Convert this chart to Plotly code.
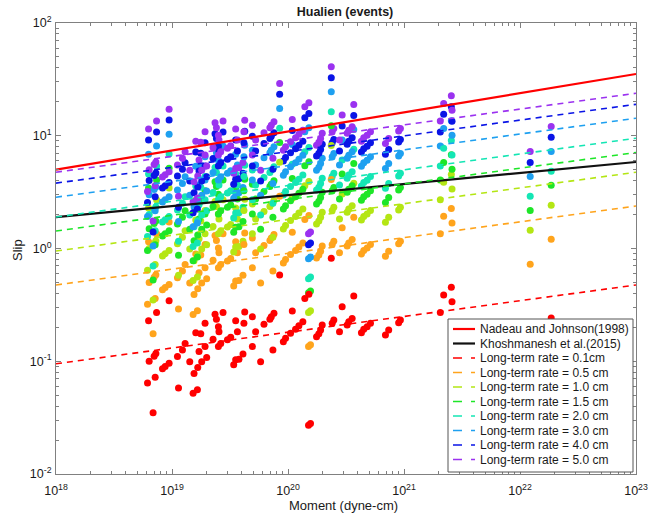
import plotly.graph_objects as go

# Long-term slip rates (cm/yr) and their colours
rates = [0.1, 0.5, 1.0, 1.5, 2.0, 3.0, 4.0, 5.0]
rate_labels = ["0.1cm", "0.5 cm", "1.0 cm", "1.5 cm", "2.0 cm", "3.0 cm", "4.0 cm", "5.0 cm"]
rate_colors = ["#FF0000", "#FFA41C", "#B4E614", "#1EE628", "#14E6B4",
               "#1EA0F0", "#0A14E6", "#9B32F0"]

# Model lines, evaluated at the ends of the moment range
line_moment = [1e18, 1e23]
nadeau_slip = [5.0, 35.3]
khosh_slip = [1.9, 5.85]
rate_slip_start = [0.095, 0.475, 0.95, 1.43, 1.9, 2.85, 3.8, 4.75]
rate_slip_end = [0.475, 2.38, 4.75, 7.1, 9.5, 14.3, 19.0, 23.8]

# Repeating events: log10 seismic moment (dyne-cm) and recurrence interval (yr)
log10_moment = [
    18.975, 18.867, 18.798, 19.371, 19.440, 19.383, 19.285, 19.400, 19.405, 19.205,
    19.248, 19.549, 19.627, 19.564, 19.354, 19.420, 19.478, 19.506, 19.400, 19.113,
    19.090, 19.285, 19.233, 18.861, 18.846, 19.047, 19.299, 19.256, 19.153, 18.975,
    18.941, 18.918, 18.803, 19.222, 19.549, 19.577, 19.532, 19.612, 19.190, 18.855,
    18.789, 19.056, 19.219, 19.182, 18.837, 19.620, 19.693, 19.721, 19.793, 19.879,
    19.856, 19.844, 20.037, 20.145, 20.128, 20.094, 20.065, 20.022, 19.979, 19.960,
    20.295, 20.281, 20.266, 20.246, 20.395, 20.381, 20.467, 20.444, 20.510, 19.693,
    19.870, 19.764, 20.194, 20.177, 20.567, 20.553, 20.524, 20.711, 20.682, 20.653,
    20.633, 20.969, 20.954, 20.868, 20.840, 21.313, 21.342, 21.408, 21.414, 20.373,
    19.928, 22.269, 22.088, 20.180,
]
recurrence_yr = [
    3.44, 2.70, 2.29, 2.61, 2.70, 2.36, 2.17, 2.02, 1.83, 1.79,
    1.75, 2.29, 2.74, 1.83, 1.57, 1.44, 1.55, 1.63, 1.35, 1.44,
    1.26, 1.35, 1.22, 1.17, 1.11, 1.10, 1.08, 0.99, 0.99, 0.96,
    0.90, 0.86, 1.00, 0.88, 1.03, 1.04, 0.93, 1.16, 0.78, 0.72,
    0.64, 0.58, 0.56, 0.52, 0.35, 2.17, 2.48, 1.83, 2.13, 2.66,
    2.48, 2.36, 2.79, 3.61, 2.24, 2.06, 1.92, 1.77, 1.60, 1.49,
    2.10, 1.89, 1.75, 1.65, 2.32, 2.17, 3.05, 1.83, 2.10, 1.35,
    1.26, 0.99, 0.28, 0.27, 3.79, 2.40, 2.24, 2.17, 2.02, 1.92,
    1.79, 2.32, 2.20, 1.89, 1.71, 2.70, 3.87, 4.53, 3.37, 8.18,
    5.82, 2.42, 1.45, 3.93,
]

FONT = "Liberation Sans, Arial, Helvetica, sans-serif"
TEXT = "#1a1a1a"
AXC = "#808080"
W, H = 648, 518
ML, MR, MT, MB = 56, 12, 23, 44
PW, PH = W - ML - MR, H - MT - MB

fig = go.Figure()

# Event slips: each event gives one point per assumed long-term rate
xs, ys, cs = [], [], []
for lm, tr in zip(log10_moment, recurrence_yr):
    for r, c in zip(rates, rate_colors):
        xs.append(10.0 ** lm)
        ys.append(r * tr)
        cs.append(c)
fig.add_trace(go.Scatter(
    x=xs, y=ys, mode="markers", showlegend=False, hoverinfo="skip",
    marker=dict(size=7, color=cs, line=dict(width=0)),
))

# Model / reference lines (label, colour, width, dash, slips)
line_specs = [
    ("Nadeau and Johnson(1998)", "#FF0000", 2.2, "solid", nadeau_slip),
    ("Khoshmanesh et al.(2015)", "#111111", 2.2, "solid", khosh_slip),
]
for lab, c, s0, s1 in zip(rate_labels, rate_colors, rate_slip_start, rate_slip_end):
    line_specs.append((f"Long-term rate = {lab}", c, 1.6, "6px,5px", [s0, s1]))

for name, c, w, d, s in line_specs:
    fig.add_trace(go.Scatter(
        x=line_moment, y=s, mode="lines", name=name, showlegend=False,
        hoverinfo="skip", line=dict(color=c, width=w, dash=d),
    ))

# Legend box in the lower-right corner of the axes
def px_x(p):
    return (p - ML) / PW

def px_y(p):
    return (H - MB - p) / PH

box_l, box_r, box_t, box_b = 448, 633, 319, 472
row0, row_step = 329, 14.5
shapes = [dict(type="rect", xref="paper", yref="paper", layer="above",
               x0=px_x(box_l), x1=px_x(box_r), y0=px_y(box_b), y1=px_y(box_t),
               fillcolor="white", line=dict(color="#555555", width=1))]
annotations = []
for i, (name, c, w, d, s) in enumerate(line_specs):
    yy = px_y(row0 + i * row_step)
    shapes.append(dict(type="line", xref="paper", yref="paper", layer="above",
                       x0=px_x(453), x1=px_x(475), y0=yy, y1=yy,
                       line=dict(color=c, width=w, dash="dash" if d != "solid" else "solid")))
    annotations.append(dict(text=name, xref="paper", yref="paper", x=px_x(478), y=yy,
                            xanchor="left", yanchor="middle", showarrow=False,
                            font=dict(family=FONT, size=12, color=TEXT)))

# Axis titles
annotations.append(dict(text="Moment (dyne-cm)", xref="paper", yref="paper",
                        x=px_x(343), y=px_y(505), xanchor="center", yanchor="middle",
                        showarrow=False, font=dict(family=FONT, size=13, color=TEXT)))
annotations.append(dict(text="Slip", xref="paper", yref="paper", textangle=-90,
                        x=px_x(17), y=px_y(250), xanchor="center", yanchor="middle",
                        showarrow=False, font=dict(family=FONT, size=13, color=TEXT)))

minor_x = [m * 10.0 ** e for e in range(18, 23) for m in range(2, 10)]
minor_y = [m * 10.0 ** e for e in range(-2, 2) for m in range(2, 10)]
axis_common = dict(
    type="log", showgrid=False, zeroline=False, automargin=False,
    showline=True, linecolor=AXC, linewidth=1, mirror="allticks",
    ticks="inside", ticklen=5, tickcolor=AXC,
    tickfont=dict(family=FONT, size=12.5, color=TEXT),
)

fig.update_xaxes(
    **axis_common, range=[18, 23], ticklabelstandoff=5,
    tickvals=[10.0 ** e for e in range(18, 24)],
    ticktext=[f"10<sup>{e}</sup>" for e in range(18, 24)],
    minor=dict(tickvals=minor_x, ticks="inside", ticklen=3, tickcolor=AXC),
)
fig.update_yaxes(
    **axis_common, range=[-2, 2], ticklabelstandoff=1,
    tickvals=[10.0 ** e for e in range(-2, 3)],
    ticktext=[f"10<sup>{e}</sup>" for e in range(-2, 3)],
    minor=dict(tickvals=minor_y, ticks="inside", ticklen=3, tickcolor=AXC),
)

fig.update_layout(
    width=W, height=H,
    margin=dict(l=ML, r=MR, t=MT, b=MB, autoexpand=False),
    paper_bgcolor="white", plot_bgcolor="white",
    title=dict(text="<b>Hualien (events)</b>", x=345 / W,
               xanchor="center", y=1 - 12 / H, yanchor="middle",
               font=dict(family=FONT, size=12.5, color=TEXT)),
    shapes=shapes, annotations=annotations,
    showlegend=False,
)

fig.write_html("out.html")
